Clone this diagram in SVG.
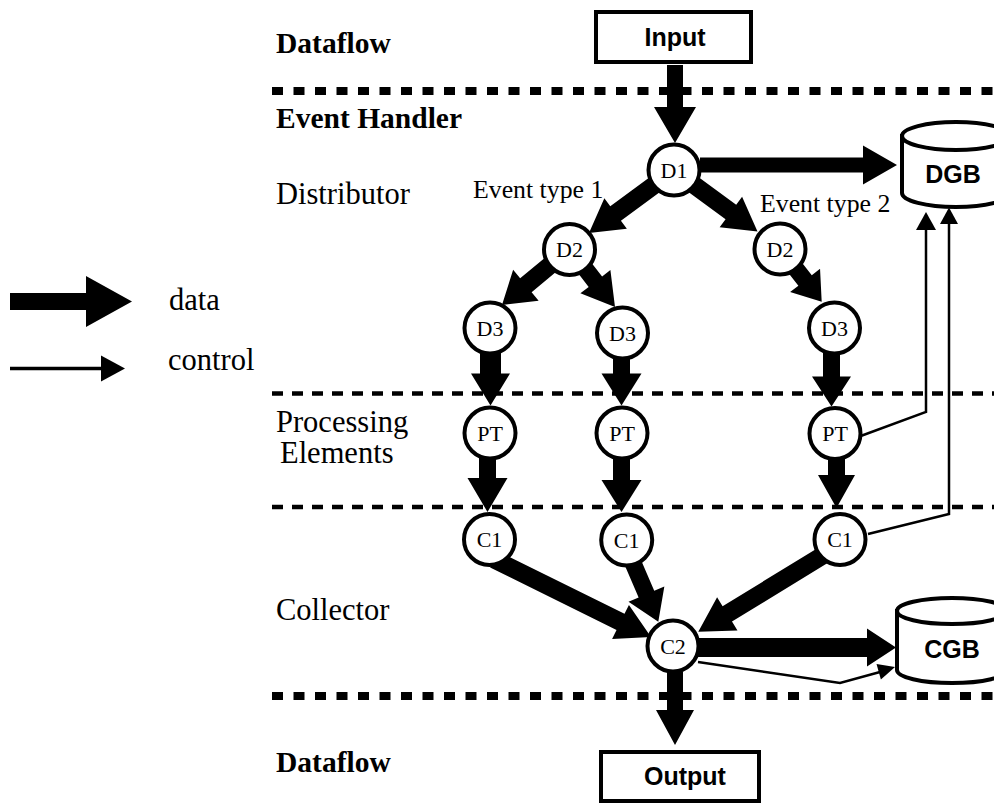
<svg xmlns="http://www.w3.org/2000/svg" width="994" height="805" viewBox="0 0 994 805">
  <style>
    .lane { font-family: "Liberation Serif", "Times New Roman", serif; font-size: 30.5px; fill: #000; }
    .lane-b { font-family: "Liberation Serif", "Times New Roman", serif; font-size: 29.5px; font-weight: bold; fill: #000; }
    .evt { font-family: "Liberation Serif", "Times New Roman", serif; font-size: 25.8px; fill: #000; }
    .node circle { fill: #fff; stroke: #000; stroke-width: 4; }
    .node text { font-family: "Liberation Serif", "Times New Roman", serif; font-size: 22px; text-anchor: middle; fill: #000; }
    .box rect, .box path, .box ellipse { fill: #fff; stroke: #000; stroke-width: 4; }
    .box text { font-family: "Liberation Sans", Arial, sans-serif; font-size: 25px; font-weight: bold; text-anchor: middle; fill: #000; }
    .sep-thick { stroke: #000; stroke-width: 8; stroke-dasharray: 11 10.5; fill: none; }
    .sep-thin { stroke: #000; stroke-width: 4.5; stroke-dasharray: 11 9; fill: none; }
    .data { fill: #000; stroke: none; }
    .ctrl { fill: none; stroke: #000; stroke-width: 2.5; }
    .ctrl-head { fill: #000; stroke: none; }
  </style>

  <rect width="994" height="805" fill="#fff"/>

  <!-- lane separators -->
  <g id="separators">
    <line class="sep-thick" x1="272" y1="91" x2="994" y2="91"/>
    <line class="sep-thin" x1="272" y1="393.5" x2="994" y2="393.5"/>
    <line class="sep-thin" x1="272" y1="507" x2="994" y2="507"/>
    <line class="sep-thick" x1="272" y1="696" x2="994" y2="696"/>
  </g>

  <!-- lane labels -->
  <g id="lane-labels">
    <text class="lane-b" x="276" y="53">Dataflow</text>
    <text class="lane-b" x="276" y="128">Event Handler</text>
    <text class="lane" x="276" y="204">Distributor</text>
    <text class="lane" x="276" y="432">Processing</text>
    <text class="lane" x="280" y="463">Elements</text>
    <text class="lane" x="276" y="620">Collector</text>
    <text class="lane-b" x="276" y="772">Dataflow</text>
  </g>

  <!-- legend -->
  <g id="legend">
    <polygon class="data" points="10,293 86,293 86,276 132,301.5 86,327 86,310 10,310"/>
    <text class="lane" x="169" y="310">data</text>
    <line x1="10" y1="368.5" x2="102" y2="368.5" stroke="#000" stroke-width="3.5"/>
    <polygon class="ctrl-head" points="101,355.5 125,368.5 101,381.5"/>
    <text class="lane" x="168" y="370">control</text>
  </g>

  <!-- connectors: data arrows drawn as shaft+head polygons, tip at local origin -->
  <g id="connectors">
    <!-- Input -> D1 -->
    <polygon class="data" transform="translate(675 143) rotate(90)" points="-78,-8 -36,-8 -36,-21 0,0 -36,21 -36,8 -78,8"/>
    <!-- D1 -> DGB -->
    <polygon class="data" transform="translate(897 165)" points="-197,-7.5 -34,-7.5 -34,-19.5 0,0 -34,19.5 -34,7.5 -197,7.5"/>
    <!-- D1 -> D2 (event type 1) -->
    <polygon class="data" transform="translate(589 233) rotate(143.7)" points="-84,-9 -33,-9 -33,-19 0,0 -33,19 -33,9 -84,9"/>
    <!-- D1 -> D2 (event type 2) -->
    <polygon class="data" transform="translate(757.5 231.5) rotate(36.2)" points="-82,-9 -33,-9 -33,-19 0,0 -33,19 -33,9 -82,9"/>
    <!-- D2 -> D3 (left) -->
    <polygon class="data" transform="translate(502 305) rotate(140.4)" points="-66,-9 -31,-9 -31,-20 0,0 -31,20 -31,9 -66,9"/>
    <!-- D2 -> D3 (middle) -->
    <polygon class="data" transform="translate(615 307) rotate(52.2)" points="-52,-8.5 -32,-8.5 -32,-19 0,0 -32,19 -32,8.5 -52,8.5"/>
    <!-- D2 -> D3 (right) -->
    <polygon class="data" transform="translate(821.7 301.7) rotate(52)" points="-46,-8.5 -27,-8.5 -27,-19 0,0 -27,19 -27,8.5 -46,8.5"/>
    <!-- D3 -> PT -->
    <polygon class="data" transform="translate(490.5 405.5) rotate(90)" points="-55,-10.5 -32,-10.5 -32,-19.5 0,0 -32,19.5 -32,10.5 -55,10.5"/>
    <polygon class="data" transform="translate(621.5 405.5) rotate(90)" points="-50,-8.5 -32,-8.5 -32,-20 0,0 -32,20 -32,8.5 -50,8.5"/>
    <polygon class="data" transform="translate(831.5 406.5) rotate(90)" points="-56,-8.5 -30,-8.5 -30,-19.5 0,0 -30,19.5 -30,8.5 -56,8.5"/>
    <!-- PT -> C1 -->
    <polygon class="data" transform="translate(487.5 512) rotate(90)" points="-57,-8.5 -34,-8.5 -34,-20 0,0 -34,20 -34,8.5 -57,8.5"/>
    <polygon class="data" transform="translate(621.5 512) rotate(90)" points="-57,-8.5 -32,-8.5 -32,-20 0,0 -32,20 -32,8.5 -57,8.5"/>
    <polygon class="data" transform="translate(836.5 508) rotate(90)" points="-52,-8.5 -33,-8.5 -33,-18.5 0,0 -33,18.5 -33,8.5 -52,8.5"/>
    <!-- C1 -> C2 -->
    <polygon class="data" transform="translate(651 637) rotate(26.3)" points="-175,-9 -34,-9 -34,-19 0,0 -34,19 -34,9 -175,9"/>
    <polygon class="data" transform="translate(658.3 621.7) rotate(66.7)" points="-70,-8.5 -30,-8.5 -30,-19.5 0,0 -30,19.5 -30,8.5 -70,8.5"/>
    <polygon class="data" transform="translate(698.3 631.7) rotate(148.5)" points="-150,-9 -34,-9 -34,-19.5 0,0 -34,19.5 -34,9 -150,9"/>
    <!-- C2 -> CGB -->
    <polygon class="data" transform="translate(896 647.5)" points="-198,-9.5 -29,-9.5 -29,-19 0,0 -29,19 -29,9.5 -198,9.5"/>
    <!-- C2 -> Output -->
    <polygon class="data" transform="translate(675 745) rotate(90)" points="-73,-8 -35,-8 -35,-19 0,0 -35,19 -35,8 -73,8"/>

    <!-- control links -->
    <polyline class="ctrl" points="858,437 926,412 926,228"/>
    <polygon class="ctrl-head" points="916,230 926,212 936,230"/>
    <polyline class="ctrl" points="868,534 949,514 949,223"/>
    <polygon class="ctrl-head" points="940,224 949,207.5 958,224"/>
    <polyline class="ctrl" points="698,662 840,683 880,672"/>
    <polygon class="ctrl-head" points="895,667 880.9,679.4 876.5,664"/>
  </g>

  <!-- terminals and stores -->
  <g id="input" class="box">
    <rect x="596" y="12" width="155" height="50"/>
    <text x="675" y="46">Input</text>
  </g>
  <g id="output" class="box">
    <rect x="601" y="752" width="158" height="49"/>
    <text x="685" y="785">Output</text>
  </g>
  <g id="dgb" class="box">
    <path d="M902 136 L902 193 A54 14 0 0 0 1010 193 L1010 136 Z"/>
    <ellipse cx="956" cy="136" rx="54" ry="14"/>
    <text x="953" y="183">DGB</text>
  </g>
  <g id="cgb" class="box">
    <path d="M897 611 L897 670 A55 13 0 0 0 1007 670 L1007 611 Z"/>
    <ellipse cx="952" cy="611" rx="55" ry="13"/>
    <text x="952" y="658">CGB</text>
  </g>

  <!-- event type labels -->
  <text class="evt" x="473" y="198">Event type 1</text>
  <text class="evt" x="760" y="212">Event type 2</text>

  <!-- processing nodes -->
  <g id="d1" class="node"><circle cx="674" cy="170" r="25.5"/><text x="674" y="177.5">D1</text></g>
  <g id="d2-a" class="node"><circle cx="569.5" cy="249.5" r="25.5"/><text x="569.5" y="257">D2</text></g>
  <g id="d2-b" class="node"><circle cx="780" cy="249" r="25.5"/><text x="780" y="256.5">D2</text></g>
  <g id="d3-a" class="node"><circle cx="490" cy="328" r="25.5"/><text x="490" y="335.5">D3</text></g>
  <g id="d3-b" class="node"><circle cx="622.5" cy="333" r="25.5"/><text x="622.5" y="340.5">D3</text></g>
  <g id="d3-c" class="node"><circle cx="834.5" cy="328" r="25.5"/><text x="834.5" y="335.5">D3</text></g>
  <g id="pt-a" class="node"><circle cx="490" cy="433" r="25.5"/><text x="490" y="440.5">PT</text></g>
  <g id="pt-b" class="node"><circle cx="622" cy="433" r="25.5"/><text x="622" y="440.5">PT</text></g>
  <g id="pt-c" class="node"><circle cx="835" cy="433.5" r="25.5"/><text x="835" y="441">PT</text></g>
  <g id="c1-a" class="node"><circle cx="489.5" cy="539.5" r="25.5"/><text x="489.5" y="547">C1</text></g>
  <g id="c1-b" class="node"><circle cx="626.7" cy="540" r="25.5"/><text x="626.7" y="547.5">C1</text></g>
  <g id="c1-c" class="node"><circle cx="840" cy="539.5" r="25.5"/><text x="840" y="547">C1</text></g>
  <g id="c2" class="node"><circle cx="673" cy="646" r="25.5"/><text x="673" y="653.5">C2</text></g>
</svg>
